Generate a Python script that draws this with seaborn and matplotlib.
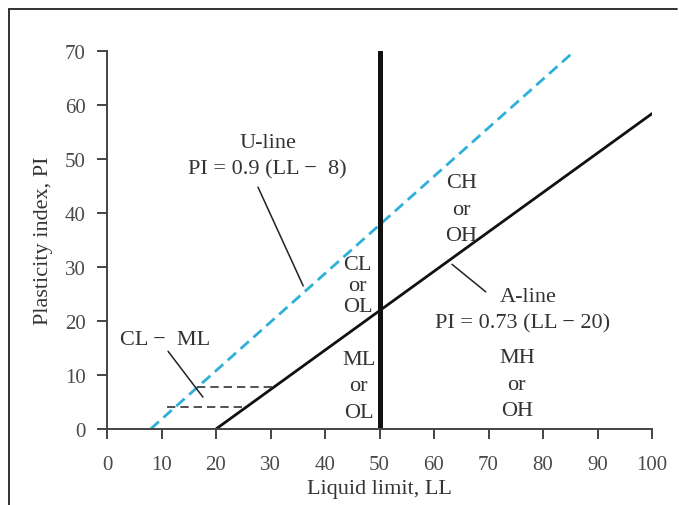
import matplotlib
matplotlib.use("Agg")
import matplotlib.pyplot as plt
import seaborn as sns
import pandas as pd
from matplotlib.lines import Line2D

# ---- data ----
x_ticks = [0, 10, 20, 30, 40, 50, 60, 70, 80, 90, 100]
y_ticks = [0, 10, 20, 30, 40, 50, 60, 70]

u_ll = [8.0, 85.8]
u_pi = [0.0, 70.0]

a_ll = [20.0, 100.0]
a_pi = [0.0, 58.4]

v_ll = [50.0, 50.0]
v_pi = [0.0, 70.0]

dash_low_ll = [11.0, 25.5]
dash_low_pi = [4.0, 4.0]
dash_up_ll = [16.5, 30.5]
dash_up_pi = [7.7, 7.7]

sns.set_theme(style="ticks")
plt.rcParams['font.family'] = ['Liberation Serif', 'DejaVu Serif']

TXT = '#333333'
fig = plt.figure(figsize=(6.79, 5.06), dpi=100)
ax = fig.add_axes([107/679, 1-430/506, (652-107)/679, (430-52)/506])

def line(xs, ys, **kw):
    df = pd.DataFrame({'x': xs, 'y': ys})
    sns.lineplot(data=df, x='x', y='y', ax=ax, sort=False, estimator=None, **kw)

line(u_ll, u_pi, color='#2eb0d8', lw=2.0, linestyle=(0, (4, 2.2)))
line(a_ll, a_pi, color='#111111', lw=2.0)
line(v_ll, v_pi, color='#111111', lw=3.6)
line(dash_low_ll, dash_low_pi, color='#333333', lw=1.2, linestyle=(0, (5, 3)))
line(dash_up_ll, dash_up_pi, color='#333333', lw=1.2, linestyle=(0, (5, 3)))

# leader lines for labels
line([27.7, 36.0], [44.8, 26.5], color='#222222', lw=1.1)
line([11.2, 17.6], [14.4, 5.9], color='#222222', lw=1.1)
line([63.3, 69.5], [30.5, 25.4], color='#222222', lw=1.1)

ax.set_xlim(0, 100)
ax.set_ylim(0, 70)
ax.set_xticks(x_ticks)
ax.set_yticks(y_ticks)
ax.set_xlabel('Liquid limit, LL', fontsize=16, color=TXT, labelpad=4)
ax.set_ylabel('Plasticity index, PI', fontsize=16, color=TXT, labelpad=8)
ax.tick_params(axis='both', direction='out', length=7.5, width=1.4, color='#444444',
               labelsize=15, labelcolor='#4a4a4a')
ax.tick_params(axis='x', pad=11)
ax.tick_params(axis='y', pad=8)
sns.despine(ax=ax)
for s in ['left', 'bottom']:
    ax.spines[s].set_linewidth(1.4)
    ax.spines[s].set_color('#444444')

fs = 16
ax.text(29.5, 53.1, 'U-line', ha='center', va='center', fontsize=fs, color=TXT)
ax.text(29.5, 48.1, 'PI = 0.9 (LL \u2212  8)', ha='center', va='center', fontsize=fs, color=TXT)
ax.text(10.6, 16.5, 'CL \u2212  ML', ha='center', va='center', fontsize=fs, color=TXT)
ax.text(46.0, 26.5, 'CL\nor\nOL', ha='center', va='center', fontsize=fs, color=TXT, linespacing=1.15)
ax.text(46.2, 8.0, 'ML\nor\nOL', ha='center', va='center', fontsize=fs, color=TXT, linespacing=1.55)
ax.text(65.0, 40.7, 'CH\nor\nOH', ha='center', va='center', fontsize=fs, color=TXT, linespacing=1.55)
ax.text(77.2, 24.6, 'A-line', ha='center', va='center', fontsize=fs, color=TXT)
ax.text(76.3, 19.6, 'PI = 0.73 (LL \u2212 20)', ha='center', va='center', fontsize=fs, color=TXT)
ax.text(75.2, 8.3, 'MH\nor\nOH', ha='center', va='center', fontsize=fs, color=TXT, linespacing=1.55)

# image frame (left and top edges)
fig.add_artist(Line2D([9/679, 9/679], [0, 1-10/506], transform=fig.transFigure, color='#222222', lw=1.3))
fig.add_artist(Line2D([9/679, 677/679], [1-10/506, 1-10/506], transform=fig.transFigure, color='#222222', lw=1.3))

fig.savefig('out.png', dpi=100)
